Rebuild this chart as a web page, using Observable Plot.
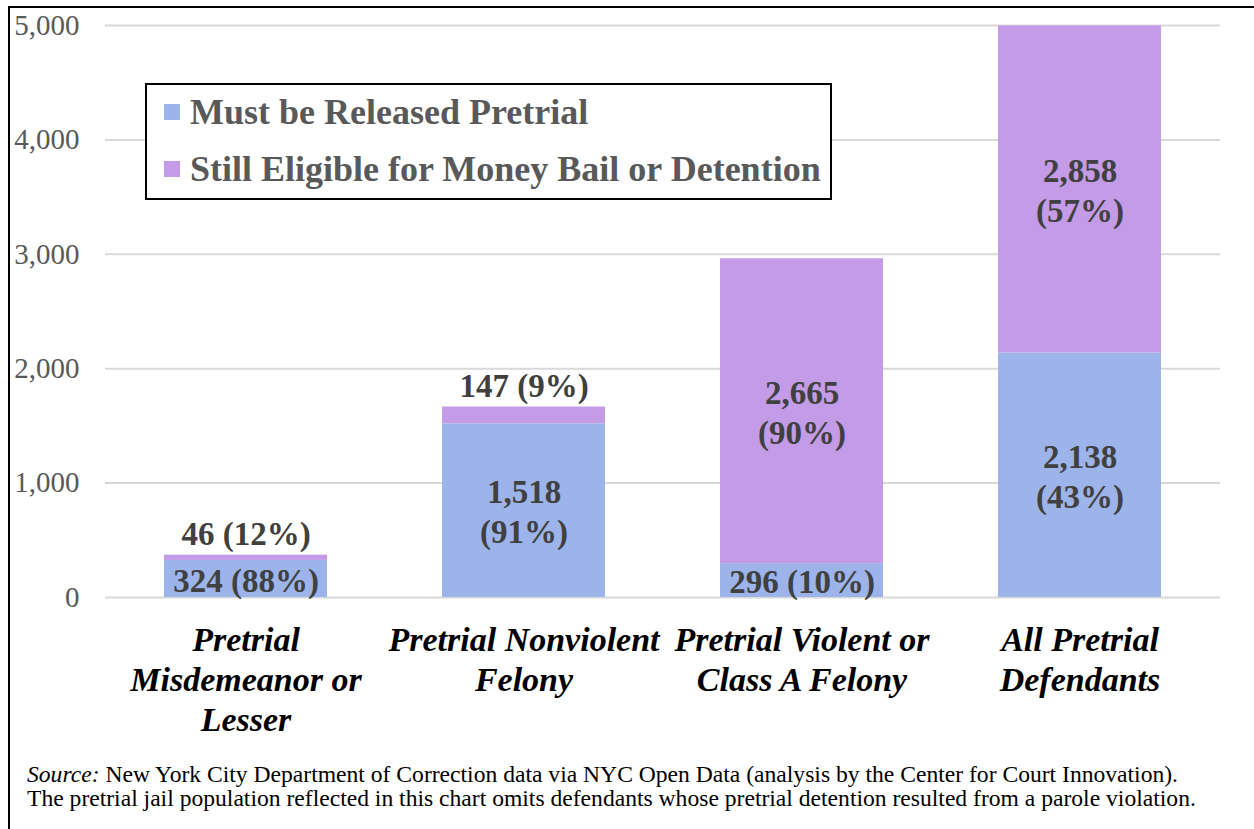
<!DOCTYPE html>
<html>
<head>
<meta charset="utf-8">
<script src="https://cdn.jsdelivr.net/npm/d3@7"></script>
<script src="https://cdn.jsdelivr.net/npm/@observablehq/plot@0.6"></script>
<style>
  html, body { margin: 0; padding: 0; background: #fff; }
  #wrap { position: relative; width: 1254px; height: 829px; overflow: hidden; background: #fff;
          font-family: "Liberation Serif", "Tinos", "Times New Roman", "DejaVu Serif", serif; }
  #frame { position: absolute; left: 8px; top: 6px; right: -10px; bottom: -10px;
           border-top: 2px solid #000; border-left: 2px solid #000; pointer-events: none; }
  #chart { position: absolute; left: 0; top: 0; }
  #legend { position: absolute; left: 145px; top: 83px; width: 683px; height: 113px;
            border: 2px solid #000; background: #fff; box-sizing: content-box; }
  .li { position: absolute; left: 17px; display: flex; align-items: center;
        font-weight: bold; font-size: 36px; color: #595959; white-space: nowrap; }
  .sw { width: 16px; height: 16px; margin-right: 10px; }
  #caption { position: absolute; left: 27px; top: 762px; font-size: 23.6px; line-height: 24px; color: #000; white-space: nowrap; }
</style>
</head>
<body>
<div id="wrap">
  <div id="chart"></div>
  <div id="legend"></div>
  <div id="caption"></div>
  <div id="frame"></div>
</div>
<script>
// ---- data ----
const categories = ["Misdemeanor", "Nonviolent", "Violent", "All"];
const categoryLabels = [
  "Pretrial\nMisdemeanor or\nLesser",
  "Pretrial Nonviolent\nFelony",
  "Pretrial Violent or\nClass A Felony",
  "All Pretrial\nDefendants"
];
const seriesNames = ["Must be Released Pretrial", "Still Eligible for Money Bail or Detention"];
const releasedValues = [324, 1518, 296, 2138];
const releasedPct = [88, 91, 10, 43];
const eligibleValues = [46, 147, 2665, 2858];
const eligiblePct = [12, 9, 90, 57];
const yTicks = [0, 1000, 2000, 3000, 4000, 5000];
const colors = ["#9cb4ea", "#c39be6"];
const sourceLine1 = "New York City Department of Correction data via NYC Open Data (analysis by the Center for Court Innovation).";
const sourceLine2 = "The pretrial jail population reflected in this chart omits defendants whose pretrial detention resulted from a parole violation.";

// ---- build table ----
const fmt = d3.format(",");
const rows = [];
categories.forEach((c, i) => {
  rows.push({cat: c, series: seriesNames[0], value: releasedValues[i], pct: releasedPct[i]});
  rows.push({cat: c, series: seriesNames[1], value: eligibleValues[i], pct: eligiblePct[i]});
});
rows.forEach(r => {
  r.outside = r.value < 200;
  r.label = r.value < 400 ? `${fmt(r.value)} (${r.pct}%)` : `${fmt(r.value)}\n(${r.pct}%)`;
  r.inside = r.outside ? null : r.label;
});
const totals = categories.map((c, i) => ({cat: c, total: releasedValues[i] + eligibleValues[i]}));
const outsideLabels = rows.filter(r => r.outside).map(r => ({cat: r.cat, total: totals[categories.indexOf(r.cat)].total, label: r.label}));
const labelMap = new Map(categories.map((c, i) => [c, categoryLabels[i]]));

const font = "'Liberation Serif', Tinos, 'Times New Roman', 'DejaVu Serif', serif";

const chart = Plot.plot({
  width: 1254,
  height: 750,
  marginLeft: 105,
  marginRight: 34,
  marginTop: 25,
  marginBottom: 153,
  style: {fontFamily: font, background: "transparent", overflow: "visible"},
  x: {domain: categories, paddingInner: 0.412, paddingOuter: 0.206, label: null},
  y: {domain: [0, 5000], label: null},
  color: {domain: seriesNames, range: colors},
  marks: [
    Plot.gridY(yTicks, {stroke: "#d9d9d9", strokeWidth: 2, strokeOpacity: 1}),
    Plot.axisY(yTicks, {tickSize: 0, tickPadding: 26, tickFormat: fmt, fontSize: 29, fill: "#595959", label: null}),
    Plot.axisX({tickSize: 0, tickPadding: 25, tickFormat: d => labelMap.get(d), fontSize: 34,
                fontWeight: "bold", fontStyle: "italic", fill: "#000", lineHeight: 1.18, label: null}),
    Plot.barY(rows, Plot.stackY({x: "cat", y: "value", fill: "series", order: seriesNames})),
    Plot.text(rows, Plot.stackY({x: "cat", y: "value", z: "series", order: seriesNames, text: "inside",
                fontSize: 33, fontWeight: "bold", fill: "#404040", lineHeight: 1.21})),
    Plot.text(outsideLabels, {x: "cat", y: "total", text: "label", dy: -21,
                fontSize: 33, fontWeight: "bold", fill: "#404040"})
  ]
});
document.getElementById("chart").appendChild(chart);

// legend
const legend = document.getElementById("legend");
seriesNames.forEach((s, i) => {
  const item = document.createElement("div");
  item.className = "li";
  item.style.top = (i === 0 ? 6 : 63) + "px";
  item.innerHTML = `<span class="sw" style="background:${colors[i]}"></span><span>${s}</span>`;
  legend.appendChild(item);
});

// caption
document.getElementById("caption").innerHTML =
  `<i>Source:</i> ${sourceLine1}<br>${sourceLine2}`;
</script>
</body>
</html>
